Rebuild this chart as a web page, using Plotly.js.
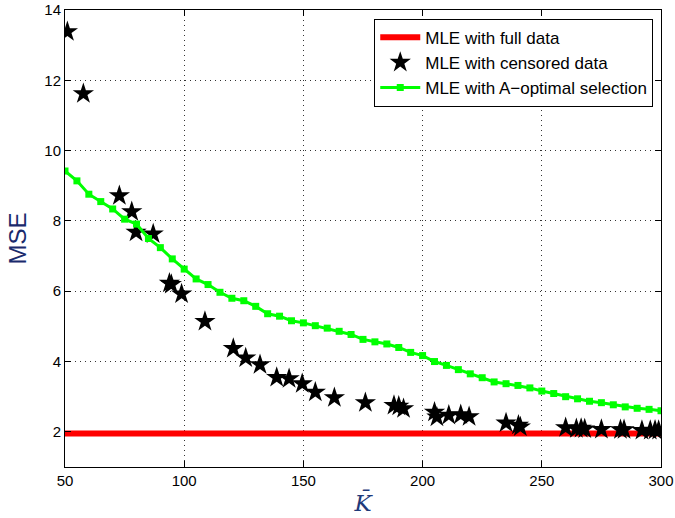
<!DOCTYPE html>
<html>
<head>
<meta charset="utf-8">
<script src="https://cdn.plot.ly/plotly-3.0.1.min.js"></script>
<style>html,body{margin:0;padding:0;background:#fff;}#chart{width:675px;height:518px;}</style>
</head>
<body>
<div id="chart"></div>
<script>
var fullX = [50, 300];
var fullY = [1.95, 1.95];

var censoredX = [51, 57.7, 72.8, 78, 79.8, 87, 93.8, 94.6, 98.9, 108.7, 120.6, 125.8, 131.8, 138.8, 144, 149.5, 155, 163, 176, 188, 190, 192, 205, 206, 211, 216, 219.5, 235, 240.2, 241, 260, 264.5, 266.5, 268, 275, 283, 284.5, 292, 295.5, 297.5, 299];
var censoredY = [13.38, 11.62, 8.72, 8.26, 7.68, 7.63, 6.23, 6.19, 5.92, 5.14, 4.37, 4.10, 3.91, 3.55, 3.51, 3.37, 3.13, 2.97, 2.83, 2.75, 2.73, 2.66, 2.56, 2.42, 2.47, 2.49, 2.43, 2.25, 2.19, 2.14, 2.12, 2.09, 2.10, 2.08, 2.07, 2.06, 2.06, 2.04, 2.04, 2.05, 2.04];

var aoptX = [50, 55, 60, 65, 70, 75, 80, 85, 90, 95, 100, 105, 110, 115, 120, 125, 130, 135, 140, 145, 150, 155, 160, 165, 170, 175, 180, 185, 190, 195, 200, 205, 210, 215, 220, 225, 230, 235, 240, 245, 250, 255, 260, 265, 270, 275, 280, 285, 290, 295, 300];
var aoptY = [9.42, 9.14, 8.76, 8.55, 8.34, 8.05, 7.91, 7.50, 7.24, 6.92, 6.63, 6.35, 6.19, 5.97, 5.80, 5.73, 5.57, 5.36, 5.29, 5.16, 5.10, 5.02, 4.95, 4.86, 4.77, 4.63, 4.56, 4.50, 4.40, 4.26, 4.17, 4.00, 3.89, 3.77, 3.65, 3.54, 3.42, 3.37, 3.32, 3.25, 3.16, 3.09, 3.00, 2.94, 2.87, 2.83, 2.77, 2.71, 2.67, 2.64, 2.60];

var xTicks = [50, 100, 150, 200, 250, 300];
var yTicks = [2, 4, 6, 8, 10, 12, 14];

var traces = [
  {x: fullX, y: fullY, mode: 'lines', name: 'MLE with full data',
   line: {color: '#ff0000', width: 6}},
  {x: censoredX, y: censoredY, mode: 'markers', name: 'MLE with censored data',
   marker: {symbol: 'star', size: 16, color: '#000000', line: {width: 0}}},
  {x: aoptX, y: aoptY, mode: 'lines+markers', name: 'MLE with A\u2212optimal selection',
   line: {color: '#00ff00', width: 3}, marker: {symbol: 'square', size: 7, color: '#00ff00'}}
];

var axisCommon = {
  showline: true, linecolor: '#000', linewidth: 1, mirror: 'ticks',
  ticks: 'inside', ticklen: 6, tickcolor: '#000',
  showgrid: true, gridcolor: '#333333', griddash: '1px,4px', gridwidth: 1,
  zeroline: false,
  tickfont: {family: 'Liberation Sans, Arial, sans-serif', size: 15, color: '#000'}
};

var layout = {
  width: 675, height: 518,
  margin: {l: 65, r: 14, t: 10, b: 51},
  paper_bgcolor: '#fff', plot_bgcolor: '#fff',
  showlegend: true,
  xaxis: Object.assign({}, axisCommon, {
    range: [50, 300], tickvals: xTicks, ticktext: xTicks.map(String),
    title: {text: '<i>K\u0304</i>', standoff: 6,
      font: {family: 'DejaVu Serif, Liberation Serif, serif', size: 23, color: '#1f3a7a'}}
  }),
  yaxis: Object.assign({}, axisCommon, {
    range: [1, 14], tickvals: yTicks, ticktext: yTicks.map(String),
    title: {text: 'MSE', standoff: 10,
      font: {family: 'Liberation Sans, Arial, sans-serif', size: 24, color: '#1a2a6c'}}
  }),
  legend: {
    x: 0.987, y: 0.981, xanchor: 'right', yanchor: 'top',
    bgcolor: '#fff', bordercolor: '#000', borderwidth: 1,
    font: {family: 'Liberation Sans, Arial, sans-serif', size: 17, color: '#000'},
    tracegroupgap: 0, itemwidth: 40
  }
};

Plotly.newPlot('chart', traces, layout, {displayModeBar: false, staticPlot: true});
</script>
</body>
</html>
